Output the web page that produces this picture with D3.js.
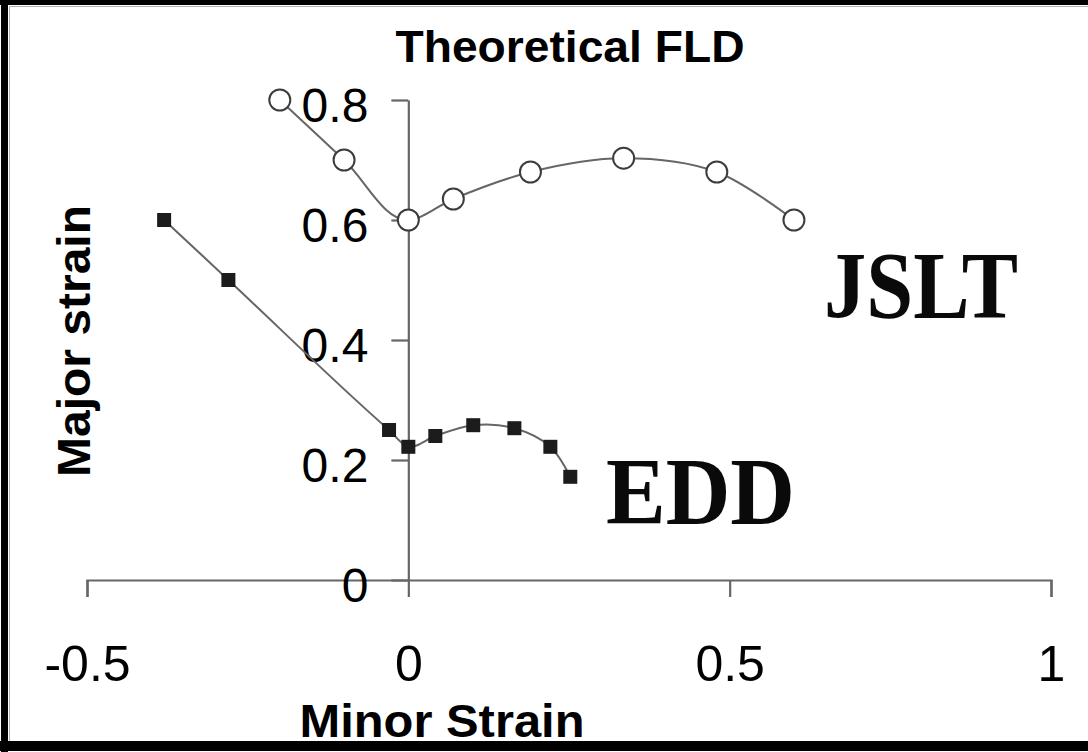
<!DOCTYPE html>
<html>
<head>
<meta charset="utf-8">
<script src="https://cdn.jsdelivr.net/npm/d3@7"></script>
<style>
  html, body { margin: 0; padding: 0; background: #fff; }
  svg { display: block; }
</style>
</head>
<body>
<svg id="chart" width="1088" height="752"></svg>
<script>
// Forming limit curves: minor strain (x) vs major strain (y)
const jsltMinor = [-0.2, -0.1, 0.0, 0.07, 0.19, 0.335, 0.48, 0.6];
const jsltMajor = [0.8, 0.7, 0.6, 0.635, 0.68, 0.703, 0.68, 0.6];

const eddMinor = [-0.38, -0.28, -0.03, 0.0, 0.042, 0.101, 0.165, 0.221, 0.252];
const eddMajor = [0.6, 0.5, 0.25, 0.222, 0.24, 0.258, 0.253, 0.222, 0.172];

const xTicks = [-0.5, 0, 0.5, 1];
const yTicks = [0, 0.2, 0.4, 0.6, 0.8];

const titleText = "Theoretical FLD";
const xTitle = "Minor Strain";
const yTitle = "Major strain";
const seriesLabels = ["JSLT", "EDD"];

const svg = d3.select("#chart");
const W = 1088, H = 752;

const x = d3.scaleLinear().domain([-0.5, 1]).range([87, 1051]);
const y = d3.scaleLinear().domain([0, 0.8]).range([580, 100]);

const axisColor = "#666";
const sans = "'Liberation Sans', Arial, sans-serif";
const serif = "'Liberation Serif', 'Times New Roman', serif";
const plain = d => String(d); // hyphen-minus, no unicode minus

// frame
svg.append("rect").attr("x", 0).attr("y", 0).attr("width", W).attr("height", H).attr("fill", "#fff");
svg.append("rect").attr("x", 0).attr("y", 0).attr("width", W).attr("height", 5).attr("fill", "#000");
svg.append("rect").attr("x", 1).attr("y", 0).attr("width", 7).attr("height", H).attr("fill", "#000");
svg.append("rect").attr("x", 0).attr("y", 741).attr("width", W).attr("height", 10).attr("fill", "#000");
svg.append("path").attr("d", `M9.5,${H - 11}V6.5H${W}`).attr("fill", "none")
  .attr("stroke", "#b0b0b0").attr("stroke-width", 1);

// title
svg.append("text")
  .attr("x", 570).attr("y", 62)
  .attr("text-anchor", "middle")
  .attr("font-family", sans).attr("font-weight", "bold").attr("font-size", 45)
  .attr("textLength", 349).attr("lengthAdjust", "spacingAndGlyphs")
  .text(titleText);

// x axis
const gx = svg.append("g").attr("transform", `translate(0,${y(0)})`)
  .call(d3.axisBottom(x).tickValues(xTicks).tickSize(17).tickSizeOuter(17).tickPadding(48)
    .tickFormat(plain));
gx.select(".domain").attr("stroke", axisColor).attr("stroke-width", 2.2);
gx.selectAll(".tick line").attr("stroke", axisColor).attr("stroke-width", 2.2);
gx.selectAll(".tick text").attr("font-family", sans).attr("font-size", 50).attr("fill", "#000");

// y axis, crossing at minor strain = 0
const gy = svg.append("g").attr("transform", `translate(${x(0)},0)`)
  .call(d3.axisLeft(y).tickValues(yTicks).tickSize(17).tickSizeOuter(0).tickPadding(23)
    .tickFormat(plain));
gy.select(".domain").attr("stroke", axisColor).attr("stroke-width", 2.2);
gy.selectAll(".tick line").attr("stroke", axisColor).attr("stroke-width", 2.2);
gy.selectAll(".tick text").attr("font-family", sans).attr("font-size", 48).attr("fill", "#000")
  .attr("dy", "0.45em");

// axis titles
svg.append("text")
  .attr("x", 442).attr("y", 737)
  .attr("text-anchor", "middle")
  .attr("font-family", sans).attr("font-weight", "bold").attr("font-size", 47)
  .attr("textLength", 285).attr("lengthAdjust", "spacingAndGlyphs")
  .text(xTitle);

svg.append("text")
  .attr("transform", "translate(90,341) rotate(-90)")
  .attr("text-anchor", "middle")
  .attr("font-family", sans).attr("font-weight", "bold").attr("font-size", 46)
  .attr("textLength", 272).attr("lengthAdjust", "spacingAndGlyphs")
  .text(yTitle);

// series
const line = d3.line()
  .x(d => x(d[0])).y(d => y(d[1]))
  .curve(d3.curveCatmullRom.alpha(1));

const jslt = d3.zip(jsltMinor, jsltMajor);
const edd = d3.zip(eddMinor, eddMajor);

svg.append("path").datum(jslt).attr("d", line)
  .attr("fill", "none").attr("stroke", "#666").attr("stroke-width", 2);
svg.append("path").datum(edd).attr("d", line)
  .attr("fill", "none").attr("stroke", "#666").attr("stroke-width", 2);

svg.append("g").selectAll("circle").data(jslt).join("circle")
  .attr("cx", d => x(d[0])).attr("cy", d => y(d[1])).attr("r", 10.5)
  .attr("fill", "#fff").attr("stroke", "#3c3c3c").attr("stroke-width", 2);

const sq = 14;
svg.append("g").selectAll("rect").data(edd).join("rect")
  .attr("x", d => x(d[0]) - sq / 2).attr("y", d => y(d[1]) - sq / 2)
  .attr("width", sq).attr("height", sq)
  .attr("fill", "#1c1c1c");

// series labels
svg.append("text")
  .attr("x", 824).attr("y", 318)
  .attr("font-family", serif).attr("font-weight", "bold").attr("font-size", 96)
  .attr("textLength", 194).attr("lengthAdjust", "spacingAndGlyphs")
  .attr("fill", "#0a0a0a")
  .text(seriesLabels[0]);

svg.append("text")
  .attr("x", 606).attr("y", 524)
  .attr("font-family", serif).attr("font-weight", "bold").attr("font-size", 96)
  .attr("textLength", 189).attr("lengthAdjust", "spacingAndGlyphs")
  .attr("fill", "#0a0a0a")
  .text(seriesLabels[1]);
</script>
</body>
</html>
